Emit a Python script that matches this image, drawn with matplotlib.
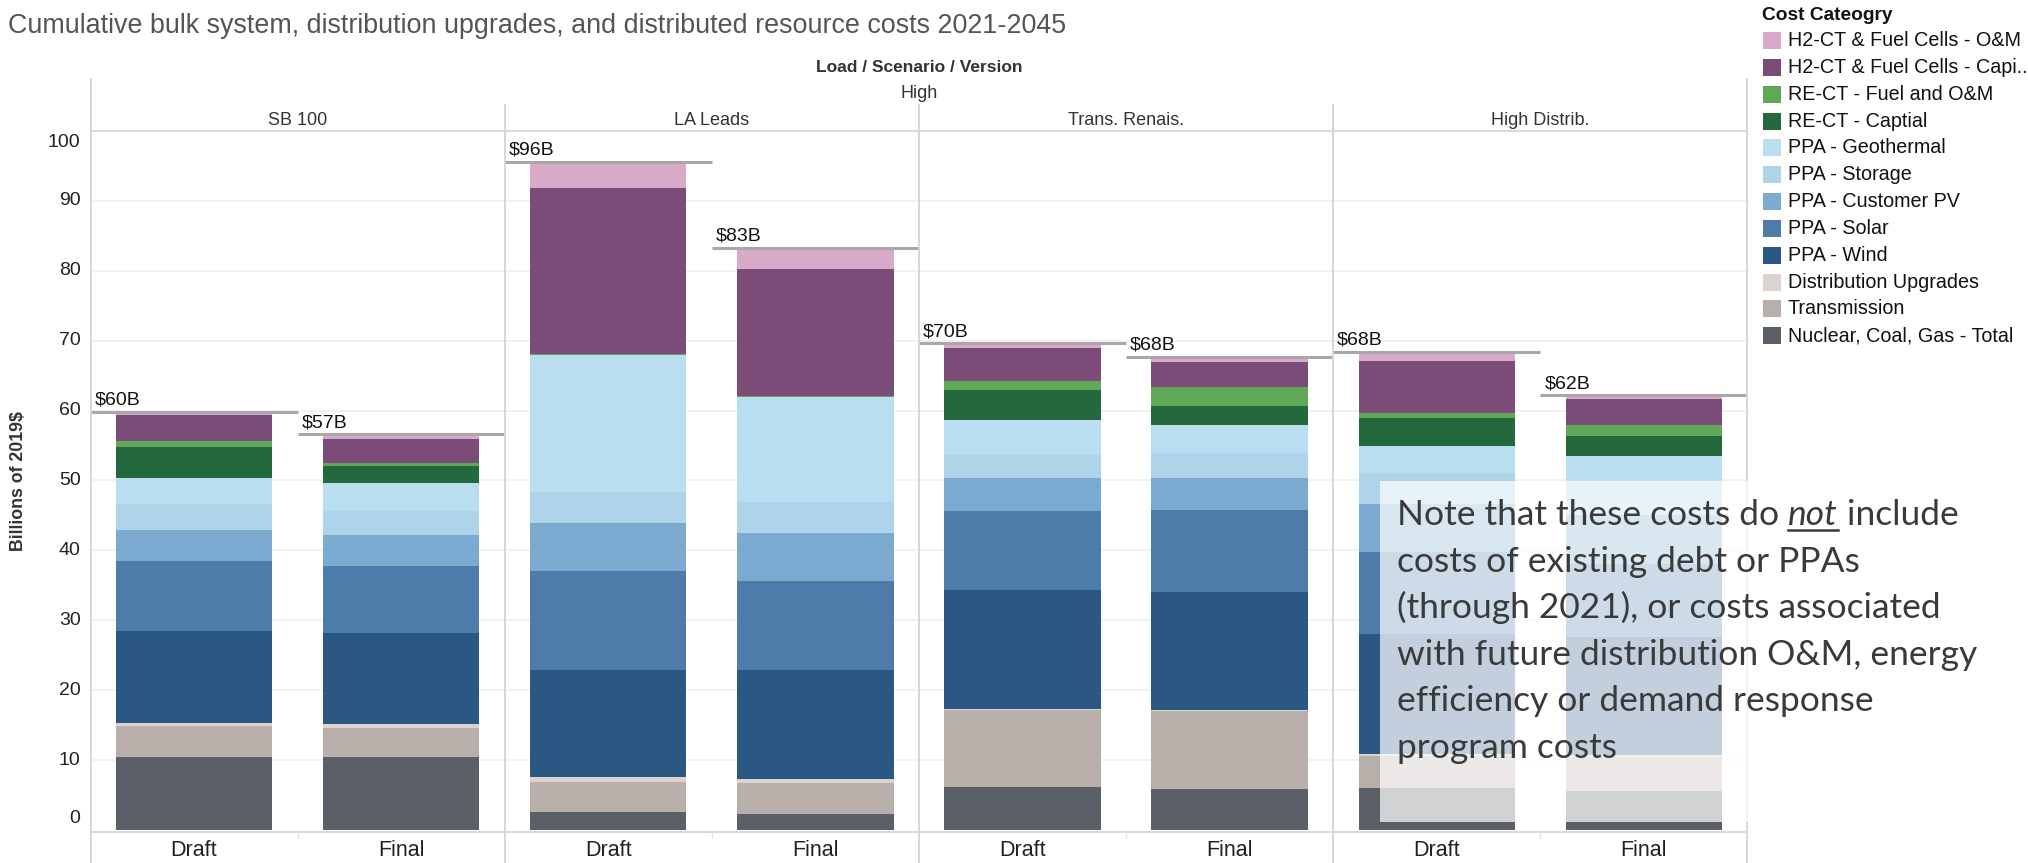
import matplotlib
matplotlib.use("Agg")
import matplotlib.pyplot as plt
from matplotlib.patches import Rectangle
from matplotlib.lines import Line2D

W, H, DPI = 2028, 863, 100

# ---------------------------------------------------------------- data
scenarios = ["SB 100", "LA Leads", "Trans. Renais.", "High Distrib."]
versions = ["Draft", "Final"]

# stacking order, bottom to top
categories = [
    "Nuclear, Coal, Gas - Total",
    "Transmission",
    "Distribution Upgrades",
    "PPA - Wind",
    "PPA - Solar",
    "PPA - Customer PV",
    "PPA - Storage",
    "PPA - Geothermal",
    "RE-CT - Captial",
    "RE-CT - Fuel and O&M",
    "H2-CT & Fuel Cells - Capi..",
    "H2-CT & Fuel Cells - O&M",
]

# billions of 2019$, bars: SB100 D/F, LA Leads D/F, Trans. Renais. D/F, High Distrib. D/F
nuclear_coal_gas = [10.5, 10.4, 2.5, 2.3, 6.1, 5.9, 6.0, 5.6]
transmission = [4.3, 4.2, 4.4, 4.45, 11.0, 11.1, 4.6, 4.9]
distribution = [0.55, 0.6, 0.7, 0.5, 0.25, 0.2, 0.2, 0.2]
ppa_wind = [13.05, 13.0, 15.3, 15.65, 16.95, 16.9, 17.3, 16.9]
ppa_solar = [10.1, 9.5, 14.1, 12.7, 11.3, 11.7, 11.7, 10.4]
ppa_customer_pv = [4.4, 4.5, 6.9, 6.9, 4.7, 4.6, 6.9, 7.0]
ppa_storage = [3.7, 3.4, 4.4, 4.4, 3.4, 3.5, 4.4, 4.5]
ppa_geothermal = [3.8, 4.1, 19.6, 15.0, 4.9, 4.0, 3.9, 4.0]
rect_capital = [4.4, 2.3, 0.05, 0.05, 4.3, 2.7, 4.0, 2.8]
rect_fuel_om = [0.9, 0.5, 0.15, 0.1, 1.4, 2.8, 0.7, 1.7]
h2_capital = [3.6, 3.5, 23.8, 18.25, 4.7, 3.6, 7.4, 3.7]
h2_om = [0.5, 0.6, 3.7, 3.0, 0.6, 0.7, 1.3, 0.5]

series = [nuclear_coal_gas, transmission, distribution, ppa_wind, ppa_solar,
          ppa_customer_pv, ppa_storage, ppa_geothermal, rect_capital,
          rect_fuel_om, h2_capital, h2_om]

colors = ["#5B5F68", "#B9AFAA", "#DCD2D0", "#2B5783", "#4D7CAB", "#7AAACF",
          "#AFD4EA", "#B9DEF0", "#24693D", "#60A857", "#7B4C78", "#D9A9CA"]

y_ticks = [0, 10, 20, 30, 40, 50, 60, 70, 80, 90, 100]

note_lines = [
    "costs of existing debt or PPAs",
    "(through 2021), or costs associated",
    "with future distribution O&M, energy",
    "efficiency or demand response",
    "program costs",
]

# ---------------------------------------------------------------- style
SANS = ["Liberation Sans", "DejaVu Sans"]
NOTE = ["Lato", "Open Sans", "DejaVu Sans"]
plt.rcParams["font.family"] = SANS
TXT = "#333333"
GRID = "#EFEFEF"
BORDER = "#D6D6D6"

fig = plt.figure(figsize=(W / DPI, H / DPI), dpi=DPI)
fig.patch.set_facecolor("white")


def fx(px):
    return px / W


def fy(py):
    return 1 - py / H


# plot area in pixels
L, R, T, B = 90.5, 1747.4, 131.0, 832.0
ax = fig.add_axes([fx(L), fy(B), fx(R - L), (B - T) / H])
n_bars = len(nuclear_coal_gas)
ax.set_xlim(0, n_bars)
ax.set_ylim(-0.3, 100)
ax.set_xticks([])
ax.set_yticks([])
for s in ["left", "right"]:
    ax.spines[s].set_visible(False)
ax.spines["top"].set_color(BORDER)
ax.spines["top"].set_linewidth(1.3)
ax.spines["bottom"].set_color(BORDER)
ax.spines["bottom"].set_linewidth(1.3)

for v in y_ticks[1:-1]:
    ax.axhline(v, color=GRID, lw=1.1, zorder=0)

# stacked bars
xpos = [i + 0.5 for i in range(n_bars)]
bottoms = [0.0] * n_bars
for vals, col in zip(series, colors):
    ax.bar(xpos, vals, width=0.755, bottom=bottoms, color=col,
           edgecolor="none", linewidth=0, zorder=2)
    bottoms = [b + v for b, v in zip(bottoms, vals)]
totals = bottoms

# total reference lines and labels
for i, tot in enumerate(totals):
    ax.plot([i, i + 1], [tot, tot], color="#A8A8A8", lw=2.2, zorder=4,
            solid_capstyle="butt")
    ax.annotate(f"${round(tot)}B", xy=(i, tot), xytext=(4, 3),
                textcoords="offset pixels", ha="left", va="bottom",
                fontsize=14, color="#111111", zorder=5)

# y tick labels (end labels pulled inside the plot area)
for v in y_ticks:
    dy = -12 if v == 100 else (11 if v == 0 else 0)
    ax.annotate(str(v), xy=(0, v), xycoords=("axes fraction", "data"),
                xytext=(-10, dy), textcoords="offset pixels",
                ha="right", va="center", fontsize=14, color="#222222",
                annotation_clip=False)

# x labels
for i in range(n_bars):
    ax.annotate(versions[i % 2], xy=(i + 0.5, 0), xycoords=("data", "axes fraction"),
                xytext=(0, -18), textcoords="offset pixels", ha="center",
                va="center", fontsize=15.5, color="#222222", annotation_clip=False)

# panel separators
panel_w = (R - L) / len(scenarios)
for k in range(len(scenarios) + 1):
    x = L + k * panel_w
    top = 79 if k in (0, len(scenarios)) else 105
    fig.add_artist(Line2D([fx(x), fx(x)], [fy(top), fy(H)], color=BORDER,
                          lw=1.4, zorder=1))
# small ticks at mid-panel on the axis line
for k in range(len(scenarios)):
    x = L + (k + 0.5) * panel_w
    fig.add_artist(Line2D([fx(x), fx(x)], [fy(B), fy(B + 6)], color="#E6E6E6",
                          lw=1, zorder=1))

# headers
fig.text(fx(8), fy(26), "Cumulative bulk system, distribution upgrades, and "
         "distributed resource costs 2021-2045", fontsize=19.4, color="#555555",
         ha="left", va="center")
fig.text(fx((L + R) / 2), fy(67), "Load / Scenario / Version", fontsize=12.5,
         fontweight="bold", color=TXT, ha="center", va="center")
fig.text(fx((L + R) / 2), fy(93), "High", fontsize=13, color=TXT,
         ha="center", va="center")
for k, name in enumerate(scenarios):
    fig.text(fx(L + (k + 0.5) * panel_w), fy(120), name, fontsize=13,
             color=TXT, ha="center", va="center")

fig.text(fx(19), fy((T + B) / 2), "Billions of 2019$", rotation=90,
         fontsize=12.8, fontweight="bold", color=TXT, ha="center", va="center")

# legend (top entry = top of stack)
fig.text(fx(1762), fy(15.5), "Cost Cateogry", fontsize=13.8, fontweight="bold",
         color="#111111", ha="left", va="center")
for j, (lab, col) in enumerate(zip(categories[::-1], colors[::-1])):
    yc = 40.5 + j * 26.85
    fig.add_artist(Rectangle((fx(1763), fy(yc + 8.5)), 17.5 / W, 17 / H,
                             transform=fig.transFigure, facecolor=col,
                             edgecolor="none"))
    fig.text(fx(1788), fy(yc), lab, fontsize=14.2, color="#111111",
             ha="left", va="center")

# note box over the last panel
fig.add_artist(Rectangle((fx(1380), fy(822)), (2010 - 1380) / W, (822 - 481) / H,
                         transform=fig.transFigure, facecolor="white",
                         alpha=0.72, edgecolor="none", zorder=6))
note_kw = dict(fontsize=25.5, color="#3A3A3A", family=NOTE, zorder=7,
               va="baseline", ha="left")
x0, base0, step = 1397, 525, 46.6
t1 = fig.text(fx(x0), fy(base0), "Note that these costs do ", **note_kw)
t2 = fig.text(0, 0, "not", style="italic", **note_kw)
t3 = fig.text(0, 0, " include", **note_kw)
fig.canvas.draw()
rend = fig.canvas.get_renderer()
e1 = t1.get_window_extent(rend)
t2.set_position((e1.x1 / W, fy(base0)))
e2 = t2.get_window_extent(rend)
t3.set_position((e2.x1 / W, fy(base0)))
fig.add_artist(Line2D([e2.x0 / W, e2.x1 / W], [fy(base0 + 5), fy(base0 + 5)],
                      color="#3A3A3A", lw=1.8, zorder=7))
for n, line in enumerate(note_lines, start=1):
    fig.text(fx(x0), fy(base0 + n * step), line, **note_kw)

fig.savefig("out.png", dpi=DPI, facecolor="white")
